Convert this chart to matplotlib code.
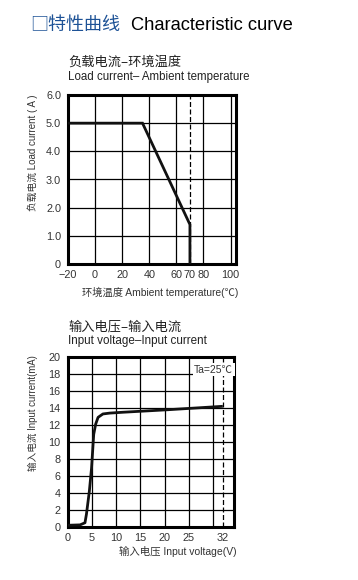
import matplotlib
matplotlib.use("Agg")
import matplotlib.pyplot as plt

plt.rcParams["font.family"] = ["Noto Sans CJK SC", "DejaVu Sans"]

# derating curve: load current vs ambient temperature
temp_c = [-20, 35, 70, 70]
load_a = [5.0, 5.0, 1.4, 0.0]
temp_ticks = [-20, 0, 20, 40, 60, 70, 80, 100]
temp_grid = [0, 20, 40, 60, 80, 100]
load_ticks = [0, 1, 2, 3, 4, 5, 6]
load_labels = ["0", "1.0", "2.0", "3.0", "4.0", "5.0", "6.0"]

# input voltage vs input current
volt_v = [0, 2.6, 3.6, 3.9, 4.5, 4.95, 5.4, 5.8, 6.3, 7.3, 8.7, 11.4, 20.8, 32]
curr_ma = [0.2, 0.25, 0.5, 1.5, 4.2, 6.9, 10.9, 12.1, 12.9, 13.3, 13.4, 13.5, 13.8, 14.2]
volt_ticks = [0, 5, 10, 15, 20, 25, 32]
volt_grid = [5, 10, 15, 20, 25, 30]
curr_ticks = list(range(0, 21, 2))

W, H = 358, 580
BLUE = "#1d5296"
GRAY = "#333333"
LATIN = ["Liberation Sans"]
MIXED = ["Liberation Sans", "Noto Sans CJK SC"]


def fx(px):
    return px / W


def fy(py):
    return 1 - py / H


fig = plt.figure(figsize=(W / 100, H / 100), dpi=100)


def style(ax):
    for s in ax.spines.values():
        s.set_linewidth(2.2)
        s.set_color("black")
    ax.tick_params(length=0, labelsize=7.8, colors=GRAY)
    ax.tick_params(axis="y", pad=5)
    ax.tick_params(axis="x", pad=4)
    for lbl in ax.get_xticklabels() + ax.get_yticklabels():
        lbl.set_family(LATIN)


# ---- title
fig.text(fx(30), fy(25), "□特性曲线", color=BLUE, fontsize=13, weight="medium",
         va="center")
fig.text(fx(131), fy(25), "Characteristic curve", color="black", fontsize=13.2,
         va="center", family=LATIN)

# ---- top chart
ax1 = fig.add_axes([fx(68), fy(264), fx(236) - fx(68), fy(95) - fy(264)])
for x in temp_grid:
    ax1.axvline(x, color="black", lw=0.9, zorder=1)
for y in load_ticks[1:-1]:
    ax1.axhline(y, color="black", lw=0.9, zorder=1)
ax1.axvline(70, color="black", lw=0.9, ls=(0, (4, 2)), zorder=1)
ax1.plot(temp_c, load_a, color="#111111", lw=2.0, zorder=3, solid_joinstyle="miter")
ax1.set_xlim(-20, 104)
ax1.set_ylim(0, 6)
ax1.set_xticks(temp_ticks)
ax1.set_xticklabels(["−20" if t < 0 else str(t) for t in temp_ticks])
ax1.set_yticks(load_ticks)
ax1.set_yticklabels(load_labels)
style(ax1)

fig.text(fx(68), fy(62), "负载电流–环境温度", fontsize=9.5, va="center", color="#222222")
fig.text(fx(68), fy(77), "Load current– Ambient temperature", fontsize=8.3, va="center",
         color="#222222", family=LATIN)
fig.text(fx(33), fy(95), "负载电流 Load current ( A )", rotation=90, fontsize=7,
         ha="center", va="top", color=GRAY, family=MIXED)
fig.text(fx(238), fy(292), "环境温度 Ambient temperature(℃)", fontsize=7.4,
         ha="right", va="center", color=GRAY, family=MIXED)

# ---- bottom chart
ax2 = fig.add_axes([fx(67.5), fy(527), fx(234) - fx(67.5), fy(357) - fy(527)])
for x in volt_grid:
    ax2.axvline(x, color="black", lw=0.9, zorder=1)
for y in curr_ticks[1:-1]:
    ax2.axhline(y, color="black", lw=0.9, zorder=1)
ax2.axvline(32, color="black", lw=0.9, ls=(0, (4, 2)), zorder=1)
ax2.plot(volt_v, curr_ma, color="#111111", lw=2.0, zorder=3, solid_capstyle="butt")
ax2.set_xlim(0, 34.3)
ax2.set_ylim(0, 20)
ax2.set_xticks(volt_ticks)
ax2.set_yticks(curr_ticks)
style(ax2)
ax2.text(0.995, 0.955, "Ta=25℃", transform=ax2.transAxes, ha="right", va="top",
         fontsize=7.5, color=GRAY, zorder=4, family=MIXED,
         bbox=dict(facecolor="white", edgecolor="none", pad=1.0))

fig.text(fx(68), fy(327), "输入电压–输入电流", fontsize=9.5, va="center", color="#222222")
fig.text(fx(68), fy(341), "Input voltage–Input current", fontsize=8.4, va="center",
         color="#222222", family=LATIN)
fig.text(fx(33), fy(355), "输入电流 Input current(mA)", rotation=90, fontsize=6.9,
         ha="center", va="top", color=GRAY, family=MIXED)
fig.text(fx(237), fy(551), "输入电压 Input voltage(V)", fontsize=7.5,
         ha="right", va="center", color=GRAY, family=MIXED)

fig.savefig("out.png", dpi=100)
